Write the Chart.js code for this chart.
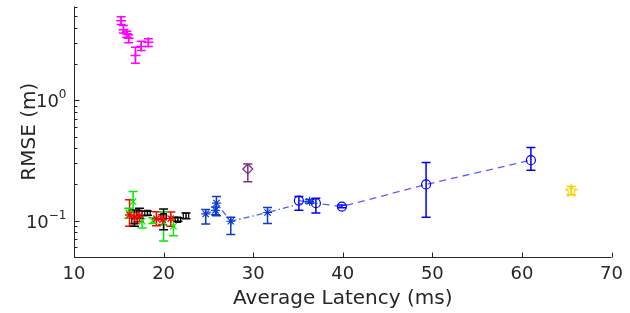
<!DOCTYPE html>
<html>
<head>
<meta charset="utf-8">
<script src="https://cdn.jsdelivr.net/npm/chart.js@4.4.1/dist/chart.umd.min.js"></script>
<style>
  html, body { margin: 0; padding: 0; background: #fff; }
  #wrap { width: 630px; height: 313px; position: relative; }
</style>
</head>
<body>
<div id="wrap"><canvas id="chart"></canvas></div>
<script>
// ---- data ----
const xTicks = [10, 20, 30, 40, 50, 60, 70];
const yMajor = [0.1, 1];
const yMinor = [0.05, 0.06, 0.07, 0.08, 0.09, 0.2, 0.3, 0.4, 0.5, 0.6, 0.7, 0.8, 0.9, 2, 3, 4, 5, 6];

// blue circles, dashed
const circX = [35.1, 37.0, 39.9, 49.3, 61.0];
const circY = [0.147, 0.140, 0.131, 0.200, 0.318];
const circLo = [0.122, 0.116, 0.128, 0.107, 0.262];
const circHi = [0.159, 0.154, 0.135, 0.305, 0.406];

// dark blue stars, dash-dot
const starX = [24.7, 25.8, 25.9, 27.5, 31.6, 36.3];
const starY = [0.114, 0.122, 0.140, 0.099, 0.117, 0.145];
const starLo = [0.094, 0.112, 0.110, 0.077, 0.095, 0.140];
const starHi = [0.124, 0.130, 0.159, 0.107, 0.129, 0.150];

// purple diamond
const purpX = [29.4];
const purpY = [0.269];
const purpLo = [0.211];
const purpHi = [0.296];

// yellow pentagram
const yelX = [65.5];
const yelY = [0.177];
const yelLo = [0.164];
const yelHi = [0.192];

// green x
const grnX = [16.1, 16.6, 17.6, 18.8, 20.0, 21.1];
const grnY = [0.116, 0.144, 0.099, 0.100, 0.096, 0.090];
const grnLo = [0.105, 0.117, 0.087, 0.095, 0.068, 0.075];
const grnHi = [0.127, 0.175, 0.110, 0.106, 0.118, 0.108];

// red asterisks
const redX = [16.2, 16.75, 17.3, 19.2, 19.9, 20.8];
const redY = [0.112, 0.107, 0.109, 0.104, 0.102, 0.104];
const redLo = [0.090, 0.095, 0.098, 0.091, 0.093, 0.090];
const redHi = [0.149, 0.118, 0.120, 0.119, 0.112, 0.118];

// black squares
const blkX = [16.75, 17.3, 18.2, 20.0, 21.6, 22.5];
const blkY = [0.099, 0.116, 0.116, 0.109, 0.102, 0.110];
const blkLo = [0.090, 0.105, 0.111, 0.084, 0.099, 0.104];
const blkHi = [0.123, 0.127, 0.120, 0.125, 0.106, 0.116];

// magenta plus
const magX = [15.26, 15.52, 15.9, 16.1, 17.5, 18.3, 16.86];
const magY = [4.58, 3.84, 3.56, 3.27, 2.79, 3.03, 2.35];
const magLo = [4.25, 3.62, 3.34, 3.00, 2.59, 2.79, 2.03];
const magHi = [4.94, 4.17, 3.74, 3.50, 3.09, 3.24, 2.76];

const TXT = '#262626';
const FONT = 'DejaVu Sans';

function pts(xs, ys) {
    return xs.map((x, i) => ({ x: x, y: ys[i] }));
}

// pentagram marker drawn on a small canvas
function pentagram(color) {
    const c = document.createElement('canvas');
    c.width = 13; c.height = 13;
    const g = c.getContext('2d');
    g.strokeStyle = color;
    g.lineWidth = 1.2;
    g.beginPath();
    for (let i = 0; i < 10; i++) {
        const r = i % 2 === 0 ? 6 : 2.6;
        const a = -Math.PI / 2 + i * Math.PI / 5;
        const px = 6.5 + r * Math.cos(a), py = 6.8 + r * Math.sin(a);
        if (i === 0) g.moveTo(px, py); else g.lineTo(px, py);
    }
    g.closePath();
    g.stroke();
    return c;
}

function series(xs, ys, lo, hi, color, style, extra) {
    return Object.assign({
        data: pts(xs, ys),
        errLo: lo,
        errHi: hi,
        errColor: color,
        pointStyle: style,
        pointRadius: 4.5,
        pointBorderColor: color,
        pointBackgroundColor: 'rgba(0,0,0,0)',
        pointBorderWidth: 1.2,
        showLine: false,
        borderColor: color
    }, extra || {});
}

// error bars + inward ticks + y labels with exponents
const matlabLook = {
    id: 'matlabLook',
    beforeDatasetsDraw(chart) {
        const ctx = chart.ctx;
        const xs = chart.scales.x, ys = chart.scales.y;
        ctx.save();
        ctx.lineWidth = 1.5;
        chart.data.datasets.forEach(ds => {
            if (!ds.errLo) return;
            ctx.strokeStyle = ds.errColor;
            ds.data.forEach((p, i) => {
                const px = xs.getPixelForValue(p.x);
                const y1 = ys.getPixelForValue(ds.errLo[i]);
                const y2 = ys.getPixelForValue(ds.errHi[i]);
                ctx.beginPath();
                ctx.moveTo(px, y1); ctx.lineTo(px, y2);
                ctx.moveTo(px - 4.5, y1); ctx.lineTo(px + 4.5, y1);
                ctx.moveTo(px - 4.5, y2); ctx.lineTo(px + 4.5, y2);
                ctx.stroke();
            });
        });
        ctx.restore();
    },
    afterDraw(chart) {
        const ctx = chart.ctx;
        const a = chart.chartArea;
        const xs = chart.scales.x, ys = chart.scales.y;
        const L = Math.round(a.left) + 0.5, B = Math.round(a.bottom) + 0.5;
        ctx.save();
        ctx.strokeStyle = TXT;
        ctx.lineWidth = 1;
        ctx.beginPath();
        ctx.moveTo(L, a.top); ctx.lineTo(L, B); ctx.lineTo(a.right, B);
        xTicks.forEach(v => {
            const px = Math.round(xs.getPixelForValue(v)) + 0.5;
            ctx.moveTo(px, B); ctx.lineTo(px, B - 5);
        });
        yMajor.forEach(v => {
            const py = Math.round(ys.getPixelForValue(v)) + 0.5;
            ctx.moveTo(L, py); ctx.lineTo(L + 5, py);
        });
        yMinor.forEach(v => {
            const py = Math.round(ys.getPixelForValue(v)) + 0.5;
            ctx.moveTo(L, py); ctx.lineTo(L + 3, py);
        });
        ctx.stroke();

        // y tick labels: 10 with superscript exponent
        ctx.fillStyle = TXT;
        ctx.textBaseline = 'alphabetic';
        yMajor.forEach(v => {
            const py = ys.getPixelForValue(v);
            const exp = String(Math.round(Math.log10(v))).replace('-', '\u2212');
            ctx.font = '12px ' + FONT;
            const ew = ctx.measureText(exp).width;
            const right = L - 8;
            ctx.textAlign = 'left';
            ctx.fillText(exp, right - ew, py - 2);
            ctx.font = '18px ' + FONT;
            ctx.textAlign = 'right';
            ctx.fillText('10', right - ew, py + 7);
        });
        ctx.restore();
    }
};

const datasets = [
    series(magX, magY, magLo, magHi, '#ff00ff', 'cross', { pointRadius: 5, pointBorderWidth: 1.5 }),
    series(redX, redY, redLo, redHi, '#ff0000', 'star', {}),
    series(grnX, grnY, grnLo, grnHi, '#00ee00', 'crossRot', {}),
    series(blkX, blkY, blkLo, blkHi, '#000000', 'rect', { pointRadius: 3.8 }),
    series(starX, starY, starLo, starHi, '#0a3bd0', 'star', {
        showLine: true, borderColor: 'rgba(40,70,230,0.85)', borderWidth: 1.3, borderDash: [6, 3, 1.5, 3]
    }),
    series(circX, circY, circLo, circHi, '#0000ff', 'circle', {
        showLine: true, borderColor: 'rgba(50,50,255,0.8)', borderWidth: 1.3, borderDash: [7, 5]
    }),
    series(purpX, purpY, purpLo, purpHi, '#7e2f8e', 'rectRot', { pointRadius: 5 }),
    series(yelX, yelY, yelLo, yelHi, '#f5cf00', pentagram('#f5cf00'), {})
];

new Chart(document.getElementById('chart'), {
    type: 'scatter',
    data: { datasets: datasets },
    options: {
        responsive: true,
        maintainAspectRatio: false,
        animation: false,
        layout: { padding: { top: 6, right: 17, left: 0, bottom: 0 } },
        plugins: { legend: { display: false }, tooltip: { enabled: false } },
        scales: {
            x: {
                type: 'linear',
                min: 10,
                max: 70,
                afterBuildTicks: s => { s.ticks = xTicks.map(v => ({ value: v })); },
                afterFit: s => { s.height = 56; },
                grid: { display: false, drawTicks: false },
                border: { display: false },
                ticks: { color: TXT, font: { family: FONT, size: 18 }, padding: 7 },
                title: {
                    display: true, text: 'Average Latency (ms)', color: TXT,
                    font: { family: FONT, size: 20 }, padding: { top: 0, bottom: 2 }
                }
            },
            y: {
                type: 'logarithmic',
                min: 0.05,
                max: 6,
                afterFit: s => { s.width = 74; },
                grid: { display: false, drawTicks: false },
                border: { display: false },
                ticks: { display: false },
                title: {
                    display: true, text: 'RMSE (m)', color: TXT,
                    font: { family: FONT, size: 20 }, padding: { top: 18, bottom: 0 }
                }
            }
        }
    },
    plugins: [matlabLook]
});
</script>
</body>
</html>
